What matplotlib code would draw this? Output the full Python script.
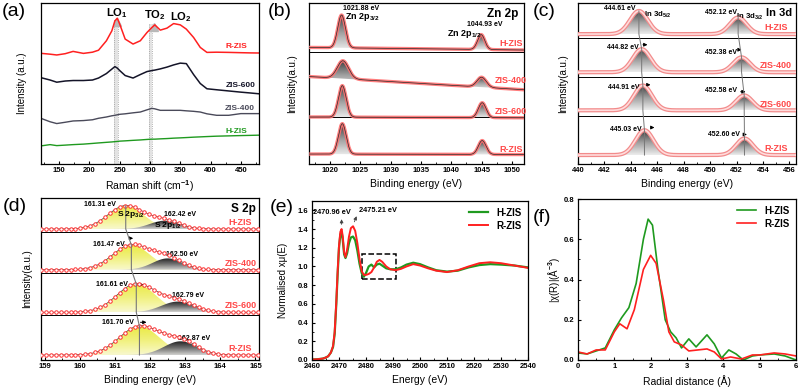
import numpy as np
import matplotlib
matplotlib.use("Agg")
import matplotlib.pyplot as plt
from matplotlib.colors import LinearSegmentedColormap
from matplotlib.ticker import MultipleLocator
from matplotlib.patches import Rectangle

plt.rcParams["font.family"] = ["Liberation Sans", "DejaVu Sans"]
plt.rcParams["font.weight"] = "bold"
plt.rcParams["mathtext.fontset"] = "custom"
plt.rcParams["mathtext.rm"] = "Liberation Sans:bold"
plt.rcParams["mathtext.bf"] = "Liberation Sans:bold"
plt.rcParams["mathtext.it"] = "Liberation Sans:bold"

# ---------------- (a) Raman ----------------
raman_shift = [121, 135, 146, 160, 173, 190, 205, 215, 228, 237, 242, 246, 250, 259, 272, 284,
               295, 303, 308, 317, 328, 339, 350, 360, 372, 383, 394, 410, 430, 450, 465, 479]
raman_r = [111.3, 110.5, 109.7, 111, 113.3, 111.3, 112.5, 114.5, 124, 134, 144, 146.7, 140.7, 125.7,
           120.7, 124, 132.3, 137.3, 140, 134.7, 136.7, 141.3, 140, 135.7, 127.3, 117.3, 112.3, 112.5,
           112.3, 112, 111.8, 111.7]
raman_600 = [86.7, 84.5, 82.3, 83.5, 84, 84, 84.5, 86.5, 91, 95.5, 98, 96.5, 94, 89, 86.5, 90,
             93, 94, 94.5, 95.7, 97.5, 99.7, 101.5, 101, 90, 81, 75.7, 74.7, 73.5, 72.3, 71.5, 70.7]
raman_400 = [45.7, 42.5, 40.7, 42, 43.3, 43.7, 44.5, 46, 47.3, 48.5, 49, 49.5, 50, 50.5, 51.5, 52.3,
             54.5, 56, 55.5, 54, 54, 54, 54, 53.5, 53, 52.3, 50.5, 49, 49, 50.7, 50.7, 50.7]
raman_h = [18.3, 19.5, 18.5, 19, 19.5, 20, 20.7, 21.2, 21.8, 22.2, 22.5, 22.7, 23, 23.3, 23.8, 24.2,
           24.7, 25, 25, 25.3, 25.6, 26, 26.3, 26.6, 27, 27.3, 27.6, 28, 28.3, 28.6, 28.8, 29]

# ---------------- (b) Zn 2p ----------------
samples = ["H-ZIS", "ZIS-400", "ZIS-600", "R-ZIS"]
zn_c32 = [1021.88, 1022.1, 1022.0, 1022.0]
zn_c12 = [1044.93, 1045.0, 1045.1, 1045.1]
zn_h32 = [33, 18, 31.7, 30.7]
zn_h12 = [15, 10, 15, 14]
zn_w32 = [1.5, 2.2, 1.5, 1.5]
zn_w12 = [1.4, 1.8, 1.5, 1.5]
zn_base_l = [117.3, 88, 47.3, 10]
zn_base_r = [114.7, 74.7, 46.5, 9.5]
zn_sep = [113, 47]
zn_label_y = [121.7, 84.3, 52.7, 14.3]

# ---------------- (c) In 3d ----------------
in_c52 = [444.61, 444.82, 444.91, 445.03]
in_c32 = [452.12, 452.38, 452.58, 452.60]
in_h52 = [23.3, 23.3, 25, 25]
in_h32 = [16.7, 15, 15, 16.7]
in_w52 = [1.6, 1.6, 1.6, 1.6]
in_w32 = [1.5, 1.5, 1.5, 1.5]
in_base = [130.7, 92.3, 54, 9]
in_sep = [126.3, 87.3, 48.3]

# ---------------- (d) S 2p ----------------
s_c32 = [161.31, 161.47, 161.61, 161.70]
s_c12 = [162.42, 162.50, 162.79, 162.87]
s_h32 = [23.3, 24.7, 28.3, 28.7]
s_h12 = [8.3, 11.3, 10.7, 13.7]
s_w32 = [1.2, 1.25, 1.3, 1.35]
s_w12 = [1.0, 1.0, 1.1, 1.1]
s_base = [131, 90.3, 47.7, 5]
s_sep = [128.3, 87, 45.3]

# ---------------- (e) XANES ----------------
xanes_e = [2460, 2462, 2464, 2465, 2466, 2467, 2467.8, 2468.4, 2469.0, 2469.5, 2470.0, 2470.5,
           2470.96, 2471.4, 2471.9, 2472.4, 2473.0, 2473.7, 2474.4, 2475.2, 2476.0, 2476.8,
           2477.6, 2478.4, 2479.2, 2480.0, 2481.0, 2482.0, 2483.0, 2484.0, 2485.0, 2486.0,
           2487.5, 2489.0, 2491.0, 2493.0, 2495.0, 2497.5, 2500.0, 2503.0, 2506.0, 2510.0,
           2514.0, 2518.0, 2522.0, 2526.0, 2530.0, 2535.0, 2540.0]
xanes_r = [0.005, 0.008, 0.015, 0.025, 0.04, 0.08, 0.15, 0.3, 0.62, 0.95, 1.22, 1.37,
           1.40, 1.32, 1.15, 1.10, 1.18, 1.32, 1.41, 1.43, 1.38, 1.25,
           1.08, 0.95, 0.91, 0.91, 0.92, 0.94, 0.99, 1.05, 1.07, 1.05,
           1.00, 0.97, 0.96, 0.975, 1.00, 1.025, 1.01, 0.98, 0.955, 0.94,
           0.96, 1.0, 1.035, 1.045, 1.035, 1.01, 0.985]
xanes_h = [0.005, 0.008, 0.015, 0.025, 0.04, 0.08, 0.14, 0.28, 0.6, 0.92, 1.2, 1.34,
           1.37, 1.28, 1.13, 1.09, 1.14, 1.25, 1.31, 1.32, 1.28, 1.17,
           1.03, 0.93, 0.89, 0.93, 1.0, 1.02, 0.99, 1.02, 1.03, 1.01,
           0.98, 0.97, 0.97, 0.99, 1.02, 1.04, 1.025, 0.99, 0.96, 0.945,
           0.955, 0.99, 1.015, 1.025, 1.02, 1.01, 0.99]

# ---------------- (f) EXAFS ----------------
r_h = [0, 0.25, 0.5, 0.75, 1.0, 1.2, 1.4, 1.6, 1.8, 1.93, 2.05, 2.2, 2.4, 2.55, 2.7, 2.85,
       3.05, 3.25, 3.55, 3.75, 3.95, 4.15, 4.35, 4.55, 4.8, 5.0, 5.4, 5.7, 6.0]
chi_h = [0.035, 0.03, 0.045, 0.06, 0.15, 0.21, 0.26, 0.38, 0.6, 0.70, 0.67, 0.45, 0.2, 0.14,
         0.11, 0.06, 0.105, 0.065, 0.125, 0.08, 0.01, 0.05, 0.03, 0.0, 0.02, 0.025, 0.03, 0.02, 0.0]
r_r = [0, 0.25, 0.5, 0.75, 1.0, 1.15, 1.35, 1.55, 1.8, 2.0, 2.15, 2.35, 2.5, 2.65, 2.85, 3.05,
       3.3, 3.55, 3.75, 3.95, 4.2, 4.5, 4.8, 5.0, 5.4, 5.7, 6.0]
chi_r = [0.04, 0.03, 0.05, 0.05, 0.14, 0.18, 0.155, 0.25, 0.45, 0.52, 0.48, 0.3, 0.14, 0.09,
         0.075, 0.045, 0.05, 0.055, 0.04, 0.005, 0.015, 0.005, 0.025, 0.025, 0.035, 0.03, 0.02]

RED = "#ff2020"
GREEN = "#1f9a1f"
LRED = "#ff4848"

grey_cm = LinearSegmentedColormap.from_list("g", ["#ececec", "#a0a0a0", "#3c3c3c"])
yel_cm = LinearSegmentedColormap.from_list("y", ["#f8f8c8", "#f0f070", "#e8e830"])
dark_cm = LinearSegmentedColormap.from_list("d", ["#d0d0d0", "#6a6a6a", "#161616"])


def gauss(x, c, h, fwhm):
    return h * np.exp(-4 * np.log(2) * (x - c) ** 2 / fwhm ** 2)


def grad_fill(ax, x, lo, hi, cmap, z=2, alpha=1.0):
    poly = ax.fill_between(x, lo, hi, facecolor="none", edgecolor="none", zorder=z)
    grad = np.linspace(0, 1, 64).reshape(-1, 1)
    im = ax.imshow(grad, extent=[x[0], x[-1], np.min(lo), np.max(hi)], origin="lower",
                   aspect="auto", cmap=cmap, zorder=z, alpha=alpha, interpolation="bilinear")
    im.set_clip_path(poly.get_paths()[0], transform=ax.transData)


fig = plt.figure(figsize=(8.02, 3.92), dpi=100)


def add_ax(l, t, r, b):
    return fig.add_axes([l / 802, 1 - b / 392, (r - l) / 802, (b - t) / 392])


def style(ax, xmaj, xmin, ymaj=None, ymin=None):
    ax.tick_params(direction="in", labelsize=5.5, width=0.8, length=2.5, pad=2.5)
    ax.tick_params(which="minor", direction="in", width=0.6, length=1.5)
    ax.xaxis.set_major_locator(MultipleLocator(xmaj))
    ax.xaxis.set_minor_locator(MultipleLocator(xmin))
    if ymaj is None:
        ax.set_yticks([])
    else:
        ax.yaxis.set_major_locator(MultipleLocator(ymaj))
        ax.yaxis.set_minor_locator(MultipleLocator(ymin))
    for s in ax.spines.values():
        s.set_linewidth(0.9)


def panel(x, y, s):
    fig.text(x / 802, 1 - y / 392, s, fontsize=14, fontweight="normal", va="top", ha="left")


def arrow(ax, x0, x1, y):
    ax.annotate("", xy=(x1, y), xytext=(x0, y),
                arrowprops=dict(arrowstyle="-|>", color="k", lw=0.7, mutation_scale=5))


# ---- (a)
ax = add_ax(41, 3, 259, 164)
for lo, hi, top in [(241, 247, 0.895), (298.5, 303.5, 0.87)]:
    ax.axvspan(lo, hi, ymin=0, ymax=top, color="#d8d8d8", alpha=0.7, lw=0, zorder=1)
    ax.axvline(lo, ymax=top, color="#999999", lw=0.6, ls=":", zorder=1)
    ax.axvline(hi, ymax=top, color="#999999", lw=0.6, ls=":", zorder=1)
ax.plot([246], [143], marker="^", ms=6, color="#b8b8b8", zorder=1)
ax.plot([306], [138], marker="^", ms=6, color="#b8b8b8", zorder=1)
ax.plot(raman_shift, raman_r, color=RED, lw=1.1)
ax.plot(raman_shift, raman_600, color="#141428", lw=1.1)
ax.plot(raman_shift, raman_400, color="#4a4a5a", lw=1.0)
ax.plot(raman_shift, raman_h, color=GREEN, lw=1.0)
ax.text(246, 152.3, r"LO$_1$", ha="center", va="center", fontsize=8)
ax.text(307.5, 150, r"TO$_2$", ha="center", va="center", fontsize=8)
ax.text(351, 148, r"LO$_2$", ha="center", va="center", fontsize=8)
ax.text(443, 118.3, "R-ZIS", color=RED, fontsize=6, ha="center", va="center")
ax.text(449.7, 79, "ZIS-600", color="#141428", fontsize=6, ha="center", va="center")
ax.text(447.5, 55.7, "ZIS-400", color="#4a4a5a", fontsize=6, ha="center", va="center")
ax.text(443, 32.3, "H-ZIS", color=GREEN, fontsize=6, ha="center", va="center")
style(ax, 50, 25)
ax.set_xlim(120, 480)
ax.set_ylim(0, 162)
ax.set_xlabel("Raman shift (cm$^{-1}$)", fontsize=7.5, labelpad=3)
ax.set_ylabel("Intensity (a.u.)", fontsize=7)
ax.yaxis.set_label_coords(-0.064, 0.5)
panel(2, 3, "(a)")

# ---- (b)
ax = add_ax(309, 3, 524, 164)
xb = np.linspace(1016.5, 1052, 900)
for i in range(4):
    base = zn_base_l[i] + (zn_base_r[i] - zn_base_l[i]) * (xb - xb[0]) / (xb[-1] - xb[0])
    p1 = gauss(xb, zn_c32[i], zn_h32[i], zn_w32[i])
    p2 = gauss(xb, zn_c12[i], zn_h12[i], zn_w12[i])
    grad_fill(ax, xb, base, base + p1, grey_cm)
    grad_fill(ax, xb, base, base + p2, grey_cm)
    env = base + p1 + p2
    ax.plot(xb, env, color="#ff7070", lw=2.4, alpha=0.9, zorder=3)
    ax.plot(xb, env, color="#2a2a2a", lw=0.5, zorder=4)
    ax.text(1049.8, zn_label_y[i], samples[i], color=LRED, fontsize=6.5, ha="center",
            va="center", zorder=6)
for y in zn_sep:
    ax.axhline(y, color="k", lw=0.7)
ax.text(1022.1, 156.5, "1021.88 eV", fontsize=5, ha="left", va="center")
ax.text(1022.5, 147.5, r"Zn 2p$_{3/2}$", fontsize=6.5, ha="left", va="center")
ax.text(1045.5, 140.5, "1044.93 eV", fontsize=5, ha="center", va="center")
ax.text(1042.1, 130.5, r"Zn 2p$_{1/2}$", fontsize=6.5, ha="center", va="center")
ax.text(1051, 151, "Zn 2p", fontsize=8.5, ha="right", va="center")
style(ax, 5, 2.5)
ax.set_xlim(1016.5, 1052)
ax.set_ylim(0, 162)
ax.set_xlabel("Binding energy (eV)", fontsize=7.5, labelpad=3)
ax.set_ylabel("Intensity(a.u.)", fontsize=7)
ax.yaxis.set_label_coords(-0.056, 0.5)
panel(268, 3, "(b)")

# ---- (c)
ax = add_ax(578, 3, 796, 164)
xc = np.linspace(440, 456.5, 900)
line52, line32 = [], []
for i in range(4):
    base = np.full_like(xc, in_base[i])
    p1 = gauss(xc, in_c52[i], in_h52[i], in_w52[i])
    p2 = gauss(xc, in_c32[i], in_h32[i], in_w32[i])
    grad_fill(ax, xc, base, base + p1, grey_cm)
    grad_fill(ax, xc, base, base + p2, grey_cm)
    env = base + p1 + p2
    ax.plot(xc, env, color="#f28c8c", lw=3.0, zorder=3)
    ax.plot(xc, env, color="#ffdcdc", lw=1.2, zorder=4)
    line52 += [(in_c52[i], in_base[i] + in_h52[i]), (in_c52[i], in_base[i])]
    line32 += [(in_c32[i], in_base[i] + in_h32[i]), (in_c32[i], in_base[i])]
    ax.text(455.0, in_base[i] + 1.8, samples[i], color=LRED, fontsize=6.5, ha="center",
            va="bottom", zorder=6)
for pts in (line52, line32):
    ax.plot([p[0] for p in pts], [p[1] for p in pts], color="#777777", lw=0.7, zorder=5)
for y in in_sep:
    ax.axhline(y, color="k", lw=0.7)
ax.text(443.13, 156, "444.61 eV", fontsize=5, ha="center", va="center")
ax.text(445.0, 150.3, r"In 3d$_{5/2}$", fontsize=5.6, ha="left", va="center")
ax.text(450.8, 152.5, "452.12 eV", fontsize=5, ha="center", va="center")
ax.text(451.95, 148.3, r"In 3d$_{3/2}$", fontsize=5.6, ha="left", va="center")
ax.text(456.2, 152, "In 3d", fontsize=8, ha="right", va="center")
for lab, x, y, a0, a1, ay in [("444.82 eV", 443.4, 117.7, 444.71, 445.47, 120),
                              ("452.38 eV", 450.8, 111.7, 452.0, 452.6, 115),
                              ("444.91 eV", 443.46, 77, 445.1, 445.7, 79.7),
                              ("452.58 eV", 450.8, 73.7, 452.1, 452.9, 72.7),
                              ("445.03 eV", 443.6, 35, 445.34, 446.0, 36.7),
                              ("452.60 eV", 451.06, 30, 452.36, 453.0, 29.7)]:
    ax.text(x, y, lab, fontsize=5, ha="center", va="center")
    arrow(ax, a0, a1, ay)
style(ax, 2, 1)
ax.set_xlim(440, 456.5)
ax.set_ylim(0, 162)
ax.set_xlabel("Binding energy (eV)", fontsize=7.5, labelpad=3)
ax.set_ylabel("Intensity(a.u.)", fontsize=7)
ax.yaxis.set_label_coords(-0.046, 0.5)
panel(533, 3, "(c)")

# ---- (d)
ax = add_ax(41, 198, 259, 360)
xd = np.linspace(158.9, 165.1, 700)
xm = np.arange(158.9, 165.1, 0.14)
line = []
for i in range(4):
    base = np.full_like(xd, s_base[i])
    p1 = gauss(xd, s_c32[i], s_h32[i], s_w32[i])
    p2 = gauss(xd, s_c12[i], s_h12[i], s_w12[i])
    grad_fill(ax, xd, base, base + p1, yel_cm, alpha=0.9)
    grad_fill(ax, xd, base, base + p2, dark_cm, z=2.5, alpha=0.95)
    env = s_base[i] + gauss(xm, s_c32[i], s_h32[i], s_w32[i]) + gauss(xm, s_c12[i], s_h12[i], s_w12[i])
    ax.plot(xd, base + p1 + p2, color="#404040", lw=0.5, zorder=3)
    ax.plot(xm, env, ls="none", marker="o", ms=2.5, mfc="white", mec="#ff3030", mew=0.7, zorder=4)
    line += [(s_c32[i], s_base[i] + s_h32[i]), (s_c32[i], s_base[i])]
    ax.text(164.57, s_base[i] + 2.0, samples[i], color=LRED, fontsize=6.5, ha="center",
            va="bottom", zorder=6)
ax.plot([p[0] for p in line], [p[1] for p in line], color="#777777", lw=0.8, zorder=5)
for y in s_sep:
    ax.axhline(y, color="k", lw=0.7)
ax.text(160.57, 155.5, "161.31 eV", fontsize=5, ha="center", va="center")
ax.text(161.05, 146, r"S 2p$_{3/2}$", fontsize=6, ha="left", va="center", zorder=6)
ax.text(162.86, 145, "162.42 eV", fontsize=5, ha="center", va="center")
ax.text(162.1, 134.5, r"S 2p$_{1/2}$", fontsize=6, ha="left", va="center", zorder=6)
ax.text(165.0, 151, "S 2p", fontsize=8.5, ha="right", va="center")
for lab, x, y, a0, a1, ay in [("161.47 eV", 160.83, 115.3, 161.37, 161.6, 121.7),
                              ("161.61 eV", 160.93, 75.7, 161.56, 161.89, 75.3),
                              ("161.70 eV", 161.09, 37, 161.65, 161.98, 37.7)]:
    ax.text(x, y, lab, fontsize=5, ha="center", va="center")
    arrow(ax, a0, a1, ay)
ax.text(162.9, 105.3, "162.50 eV", fontsize=5, ha="center", va="center")
ax.text(163.09, 64.3, "162.79 eV", fontsize=5, ha="center", va="center")
ax.text(163.24, 21.7, "162.87 eV", fontsize=5, ha="center", va="center")
style(ax, 1, 0.5)
ax.set_xlim(158.9, 165.1)
ax.set_ylim(0, 162)
ax.set_xlabel("Binding energy (eV)", fontsize=7.5, labelpad=3)
ax.set_ylabel("Intensity(a.u.)", fontsize=7)
ax.yaxis.set_label_coords(-0.041, 0.5)
panel(3, 198, "(d)")

# ---- (e)
ax = add_ax(312, 201, 528, 360)
ax.plot(xanes_e, xanes_h, color=GREEN, lw=1.6, label="H-ZIS")
ax.plot(xanes_e, xanes_r, color=RED, lw=1.4, label="R-ZIS")
ax.add_patch(Rectangle((2478.6, 0.865), 12.4, 0.27, fill=False, ls="--", lw=1.1, ec="k"))
ax.text(2467.3, 1.575, "2470.96 eV", fontsize=5.3, ha="center", va="center")
ax.text(2477.4, 1.595, "2475.21 eV", fontsize=5.3, ha="left", va="center")
ax.annotate("", xy=(2470.96, 1.535), xytext=(2470.96, 1.42),
            arrowprops=dict(arrowstyle="-|>", color="#444444", lw=0.6, mutation_scale=5))
ax.annotate("", xy=(2476.9, 1.565), xytext=(2475.3, 1.45),
            arrowprops=dict(arrowstyle="-|>", color="#444444", lw=0.6, mutation_scale=5))
ax.legend(loc="upper right", frameon=False, fontsize=7, handlelength=2.0,
          borderaxespad=0.3, labelspacing=0.3)
style(ax, 10, 5, 0.2, 0.1)
ax.set_xlim(2460, 2540)
ax.set_ylim(0, 1.7)
ax.set_xlabel("Energy (eV)", fontsize=7.5, labelpad=3)
ax.set_ylabel("Normalised xμ(E)", fontsize=7)
ax.yaxis.set_label_coords(-0.111, 0.5)
panel(270, 199, "(e)")

# ---- (f)
ax = add_ax(578, 199, 796, 360)
ax.plot(r_h, chi_h, color=GREEN, lw=1.2, label="H-ZIS")
ax.plot(r_r, chi_r, color=RED, lw=1.2, label="R-ZIS")
ax.legend(loc="upper right", frameon=False, fontsize=7, handlelength=2.0,
          borderaxespad=0.3, labelspacing=0.3)
style(ax, 1, 0.5, 0.2, 0.1)
ax.set_xlim(0, 6)
ax.set_ylim(0, 0.8)
ax.set_xlabel("Radial distance (Å)", fontsize=7.5, labelpad=3)
ax.set_ylabel("|χ(R)|(Å$^{-3}$)", fontsize=7)
ax.yaxis.set_label_coords(-0.073, 0.5)
panel(533, 209, "(f)")

fig.savefig("out.png", dpi=100)
